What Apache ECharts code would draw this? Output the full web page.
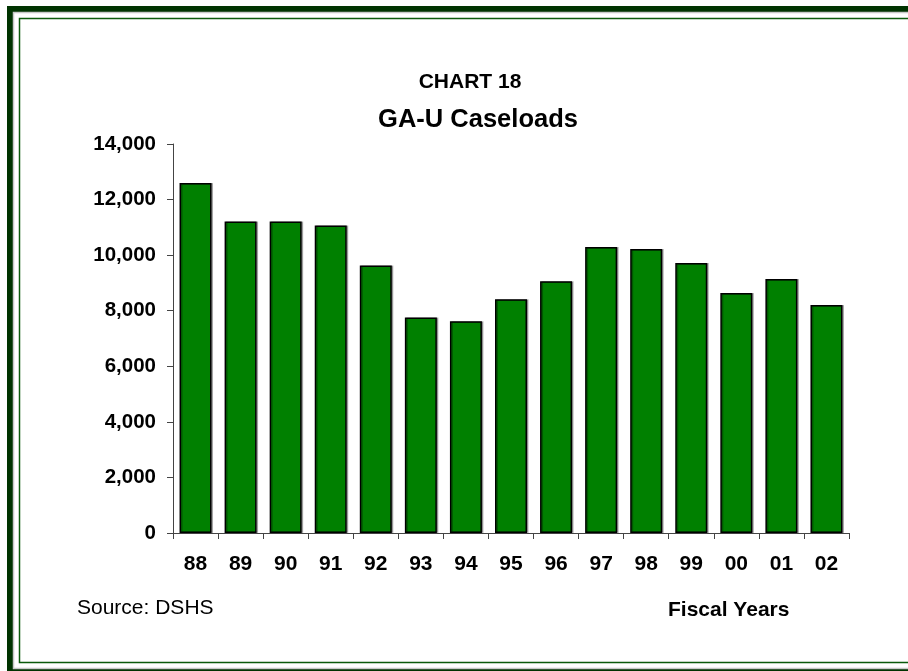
<!DOCTYPE html>
<html>
<head>
<meta charset="utf-8">
<script src="https://cdn.jsdelivr.net/npm/echarts@6/dist/echarts.min.js"></script>
<style>
  html, body { margin: 0; padding: 0; background: #fff; }
  #chart { width: 908px; height: 671px; }
</style>
</head>
<body>
<div id="chart"></div>
<script>
// fiscal years and GA-U caseloads
var years = ['88', '89', '90', '91', '92', '93', '94', '95', '96', '97', '98', '99', '00', '01', '02'];
var caseloads = [12600, 11210, 11210, 11070, 9630, 7760, 7620, 8410, 9060, 10290, 10220, 9720, 8640, 9140, 8210];
var yTicks = [0, 2000, 4000, 6000, 8000, 10000, 12000, 14000];

var FONT = 'Liberation Sans, Arial, sans-serif';

var myChart = echarts.init(document.getElementById('chart'));
myChart.setOption({
    animation: false,
    textStyle: { fontFamily: FONT },
    title: [
        {
            text: 'CHART 18',
            left: 465, top: 67, textAlign: 'center',
            textStyle: { fontSize: 21, fontWeight: 'bold', color: '#000', fontFamily: FONT }
        },
        {
            text: 'GA-U Caseloads',
            left: 473, top: 102, textAlign: 'center',
            textStyle: { fontSize: 25.5, fontWeight: 'bold', color: '#000', fontFamily: FONT }
        }
    ],
    graphic: [
        {
            type: 'rect',
            shape: { x: 10, y: 9, width: 1000, height: 663 },
            style: { fill: null, stroke: '#003300', lineWidth: 6 }
        },
        {
            type: 'rect',
            shape: { x: 13.5, y: 12.5, width: 1000, height: 656 },
            style: { fill: null, stroke: '#c8c8c8', lineWidth: 1.5 }
        },
        {
            type: 'rect',
            shape: { x: 19.5, y: 18.5, width: 1000, height: 644 },
            style: { fill: null, stroke: '#0b5a0b', lineWidth: 1.5 }
        },
        {
            type: 'text',
            left: 77, top: 598,
            style: { text: 'Source: DSHS', fontSize: 21, fill: '#000', fontFamily: FONT }
        },
        {
            type: 'text',
            left: 668, top: 600,
            style: { text: 'Fiscal Years', fontSize: 21, fontWeight: 'bold', fill: '#000', fontFamily: FONT }
        }
    ],
    grid: { left: 173, right: 59, top: 144, bottom: 138 },
    xAxis: {
        type: 'category',
        data: years,
        axisLine: { lineStyle: { color: '#444', width: 1 } },
        axisTick: { show: true, length: 6, lineStyle: { color: '#444' } },
        axisLabel: { color: '#000', fontSize: 21, fontWeight: 'bold', margin: 21 }
    },
    yAxis: {
        type: 'value',
        min: 0,
        max: 14000,
        interval: 2000,
        splitLine: { show: false },
        axisLine: { show: true, lineStyle: { color: '#444', width: 1 } },
        axisTick: { show: true, length: 6, lineStyle: { color: '#444' } },
        axisLabel: {
            color: '#000', fontSize: 20.5, fontWeight: 'bold', margin: 17,
            formatter: function (v) {
                return yTicks.indexOf(v) >= 0 ? v.toLocaleString('en-US') : '';
            }
        }
    },
    series: [
        {
            name: 'GA-U Caseloads',
            type: 'bar',
            data: caseloads,
            barWidth: 32,
            itemStyle: {
                color: '#008000',
                borderColor: '#000',
                borderWidth: 1.5,
                shadowColor: 'rgba(0,0,0,0.3)',
                shadowOffsetX: 1.5,
                shadowOffsetY: 0,
                shadowBlur: 0
            }
        }
    ]
});
</script>
</body>
</html>
